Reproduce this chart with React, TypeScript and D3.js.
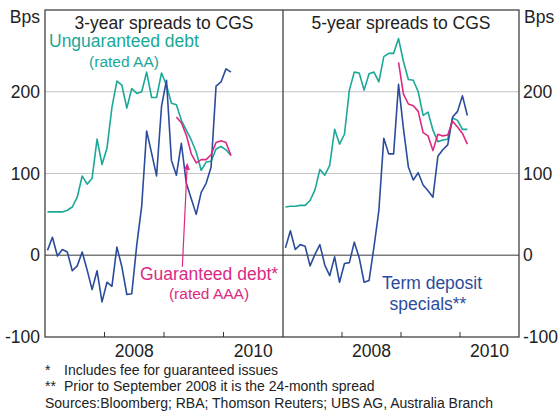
import React from 'react';
import * as d3 from 'd3';

// monthly values, month 0 = Jan 2007
const unguar3 = [53, 53, 53, 53, 55, 59, 71, 97, 87, 94, 142, 111, 131, 181, 213, 208, 180, 204, 198, 200, 224, 193, 193, 223, 208, 186, 184, 165, 153, 141, 126, 104, 114, 115, 130, 133, 129, 122];
const deposit3 = [6, 22, -1, 7, 4, -19, -13, 4, -18, -42, -19, -57, -33, -38, 10, -14, -48, -47, 12, 60, 152, 125, 97, 182, 214, 116, 98, 137, 88, 69, 50, 77, 88, 108, 207, 212, 228, 224];
const guar3Start = 26;
const guar3 = [169, 162, 147, 124, 113, 117, 117, 123, 138, 140, 138, 122];

const unguar5 = [59, 60, 60, 61, 61, 67, 80, 105, 98, 110, 154, 136, 148, 202, 224, 223, 202, 222, 224, 212, 243, 247, 247, 265, 237, 215, 214, 200, 171, 175, 153, 139, 141, 142, 168, 165, 154, 154];
const deposit5 = [9, 30, 7, 13, 11, -13, 1, 13, -12, -25, -2, -33, -10, -9, 16, -3, -33, -31, 10, 55, 143, 124, 124, 209, 155, 108, 92, 101, 86, 79, 71, 121, 129, 135, 169, 176, 195, 171];
const guar5Start = 23;
const guar5 = [236, 197, 185, 183, 176, 150, 146, 128, 148, 146, 147, 164, 157, 149, 136];

const yTicks = [-100, 0, 100, 200];
const yearLabels = [2008, 2010];
const yearTicks = [2008, 2009, 2010];

const TEAL = '#1aa898';
const BLUE = '#2b4c9c';
const PINK = '#dc2a82';
const FONT = '"Liberation Sans", Arial, sans-serif';

const top = 10;
const bottom = 337;
const y = d3.scaleLinear().domain([-100, 300]).range([bottom, top]);

type Series = { values: number[]; start: number; color: string };

const Panel = ({ x0, x1, title, series }: { x0: number; x1: number; title: string; series: Series[] }) => {
  const x = d3.scaleLinear().domain([2007, 2011]).range([x0, x1]);
  const mx = (m: number) => x(2007 + (m + 0.5) / 12);
  const line = (start: number) =>
    d3.line<number>().x((_, i) => mx(start + i)).y(d => y(d));
  return (
    <g>
      {[100, 200].map(t => (
        <line key={t} x1={x0} x2={x1} y1={y(t)} y2={y(t)} stroke="#c4c4c4" strokeWidth={1} />
      ))}
      <line x1={x0} x2={x1} y1={y(0)} y2={y(0)} stroke="#7a7a7a" strokeWidth={1.5} />
      {yearTicks.map(t => (
        <line key={t} x1={x(t)} x2={x(t)} y1={bottom} y2={bottom - 5} stroke="#333" strokeWidth={1} />
      ))}
      {yearLabels.map(t => (
        <text key={t} x={x(t + 0.5)} y={357} textAnchor="middle" fontSize={17.5} fill="#222">{t}</text>
      ))}
      {series.map((s, i) => (
        <path key={i} d={line(s.start)(s.values) || ''} fill="none" stroke={s.color} strokeWidth={1.6} strokeLinejoin="round" />
      ))}
      <text x={(x0 + x1) / 2} y={29} textAnchor="middle" fontSize={17.5} fill="#222">{title}</text>
    </g>
  );
};

export default function App() {
  const xl = d3.scaleLinear().domain([2007, 2011]).range([45, 283]);
  const mxl = (m: number) => xl(2007 + (m + 0.5) / 12);
  const tipX = mxl(28.2);
  const tipY = y(113);
  const baseX = mxl(27.2);
  const baseY = y(-14);
  const ang = Math.atan2(tipY - baseY, tipX - baseX);
  const ah = 7;
  const aw = 3;
  const hx = tipX - ah * Math.cos(ang);
  const hy = tipY - ah * Math.sin(ang);
  const arrowHead = `M${tipX},${tipY}L${hx + aw * Math.sin(ang)},${hy - aw * Math.cos(ang)}L${hx - aw * Math.sin(ang)},${hy + aw * Math.cos(ang)}Z`;

  return (
    <div style={{ position: 'absolute', left: 0, top: 0 }}>
      <svg width={560} height={412} style={{ display: 'block', fontFamily: FONT }}>
        <rect width={560} height={412} fill="#fff" />
        <Panel
          x0={45}
          x1={283}
          title="3-year spreads to CGS"
          series={[
            { values: unguar3, start: 0, color: TEAL },
            { values: deposit3, start: 0, color: BLUE },
            { values: guar3, start: guar3Start, color: PINK },
          ]}
        />
        <Panel
          x0={283}
          x1={519}
          title="5-year spreads to CGS"
          series={[
            { values: unguar5, start: 0, color: TEAL },
            { values: deposit5, start: 0, color: BLUE },
            { values: guar5, start: guar5Start, color: PINK },
          ]}
        />
        {/* frame */}
        <rect x={45} y={top} width={474} height={bottom - top} fill="none" stroke="#333" strokeWidth={1.2} />
        <line x1={283} x2={283} y1={top} y2={bottom} stroke="#333" strokeWidth={1.2} />

        {/* y axis labels */}
        <text x={40} y={23} textAnchor="end" fontSize={17.5} fill="#222">Bps</text>
        <text x={524} y={23} fontSize={17.5} fill="#222">Bps</text>
        {yTicks.map(t => (
          <g key={t}>
            <text x={40} y={y(t) + 6} textAnchor="end" fontSize={17.5} fill="#222">{t}</text>
            <text x={523} y={y(t) + 6} fontSize={17.5} fill="#222">{t}</text>
          </g>
        ))}

        {/* series labels */}
        <text x={49} y={47} fontSize={17.5} fill={TEAL}>Unguaranteed debt</text>
        <text x={124} y={67} textAnchor="middle" fontSize={15.5} fill={TEAL}>(rated AA)</text>
        <line x1={baseX} y1={baseY} x2={hx} y2={hy} stroke={PINK} strokeWidth={1.2} />
        <path d={arrowHead} fill={PINK} />
        <text x={209} y={280} textAnchor="middle" fontSize={17.5} fill={PINK}>Guaranteed debt*</text>
        <text x={209} y={299} textAnchor="middle" fontSize={15.5} fill={PINK}>(rated AAA)</text>
        <text x={432} y={289} textAnchor="middle" fontSize={17.5} fill={BLUE}>Term deposit</text>
        <text x={428} y={310} textAnchor="middle" fontSize={17.5} fill={BLUE}>specials**</text>

        {/* footnotes */}
        <text x={45} y={375} fontSize={14} fill="#222">*</text>
        <text x={64} y={375} fontSize={14} fill="#222">Includes fee for guaranteed issues</text>
        <text x={45} y={391} fontSize={14} fill="#222">**</text>
        <text x={64} y={391} fontSize={14} fill="#222">Prior to September 2008 it is the 24-month spread</text>
        <text x={45} y={408} fontSize={14} fill="#222">Sources:Bloomberg; RBA; Thomson Reuters; UBS AG, Australia Branch</text>
      </svg>
    </div>
  );
}
